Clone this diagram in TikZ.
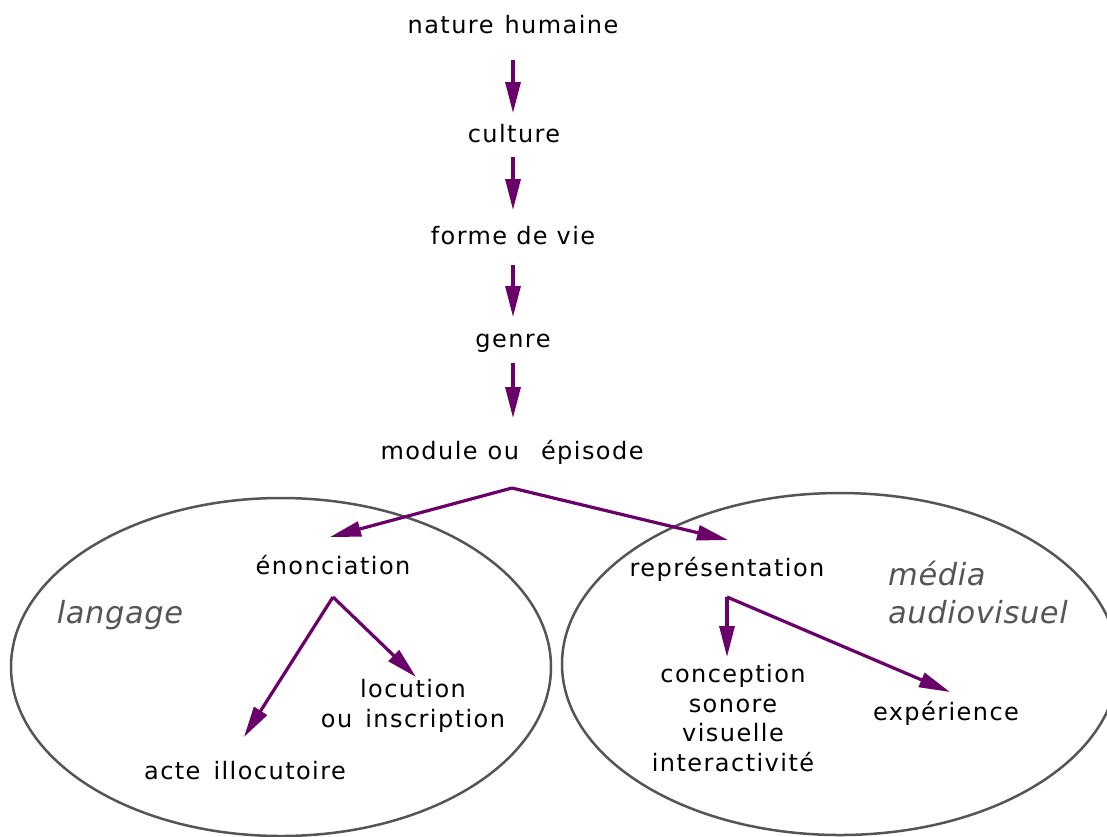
\documentclass[tikz,border=0pt]{standalone}
\usepackage{fontspec}
\setmainfont{DejaVu Sans}
\newfontfamily\lblfont{DejaVu Sans}[LetterSpace=6]
\newfontfamily\domfont{DejaVu Sans}[LetterSpace=2]
\usetikzlibrary{arrows.meta,calc}
\definecolor{arrowc}{HTML}{6A006A}
\definecolor{ringc}{HTML}{555555}
\begin{document}
\begin{tikzpicture}[x=1pt,y=-1pt,
  lbl/.style={font=\lblfont\fontsize{24}{29.5}\selectfont, inner sep=0pt, anchor=base, text=black},
  ml/.style={font=\lblfont\fontsize{24}{29.5}\selectfont, inner sep=0pt, anchor=center, align=center, text=black},
  dom/.style={font=\domfont\fontsize{30.5}{38}\selectfont\itshape, inner sep=0pt, text=ringc},
  arr/.style={draw=arrowc, line width=3.2pt, -{Triangle[length=31pt,width=15pt]}},
  ring/.style={draw=ringc, line width=2.5pt}]
\useasboundingbox (0,0) rectangle (1107,836);
% domains
\draw[ring] (281,667) ellipse [x radius=270, y radius=169];
\draw[ring] (840,664) ellipse [x radius=278, y radius=171];
\node[dom, anchor=base] (lang) at (120,623) {langage};
\node[dom, anchor=west, align=left] (media) at (888,593) {média\\audiovisuel};
% chain
\node[lbl] (nh) at (513,33) {nature\hspace{11pt}humaine};
\node[lbl] (cu) at (514,142) {culture};
\node[lbl] (fv) at (513,244) {forme\hspace{9pt}de\hspace{9pt}vie};
\node[lbl] (ge) at (513,347) {genre};
\node[lbl] (mo) at (512,459) {module\hspace{10pt}ou\hspace{22pt}épisode};
\node[lbl] (en) at (333,574) {énonciation};
\node[lbl] (re) at (727,576) {représentation};
\node[lbl] (ac) at (245,779) {acte\hspace{13pt}illocutoire};
\node[ml] (lo) at (413,706) {locution\\ou\hspace{13pt}inscription};
\node[ml] (co) at (733,718) {conception\\sonore\\visuelle\\interactivité};
\node[lbl] (ex) at (946,720) {expérience};
\coordinate (b1) at ($(mo.base)+(0,29)$);
\coordinate (b2) at ($(en.base)+(0,23)$);
\coordinate (b3) at ($(re.base)+(0,21)$);
% arrows
\draw[arr] ($(nh.base)+(0,27)$) -- ($(cu.base)+(-1,-29)$);
\draw[arr] ($(cu.base)+(-1,15)$) -- ($(fv.base)+(0,-34)$);
\draw[arr] ($(fv.base)+(0,21)$) -- ($(ge.base)+(0,-30)$);
\draw[arr] ($(ge.base)+(0,16)$) -- ($(mo.base)+(1,-41)$);
\draw[arr] (b1) -- ($(en.base)+(-3,-37)$);
\draw[arr] (b1) -- ($(re.base)+(1,-36)$);
\draw[arr] (b2) -- ($(ac.base)+(-1,-42)$);
\draw[arr] (b2) -- ($(lo.center)+(3,-29)$);
\draw[arr] (b3) -- ($(co.center)+(-6,-61)$);
\draw[arr] (b3) -- ($(ex.base)+(4,-28)$);
\end{tikzpicture}
\end{document}
